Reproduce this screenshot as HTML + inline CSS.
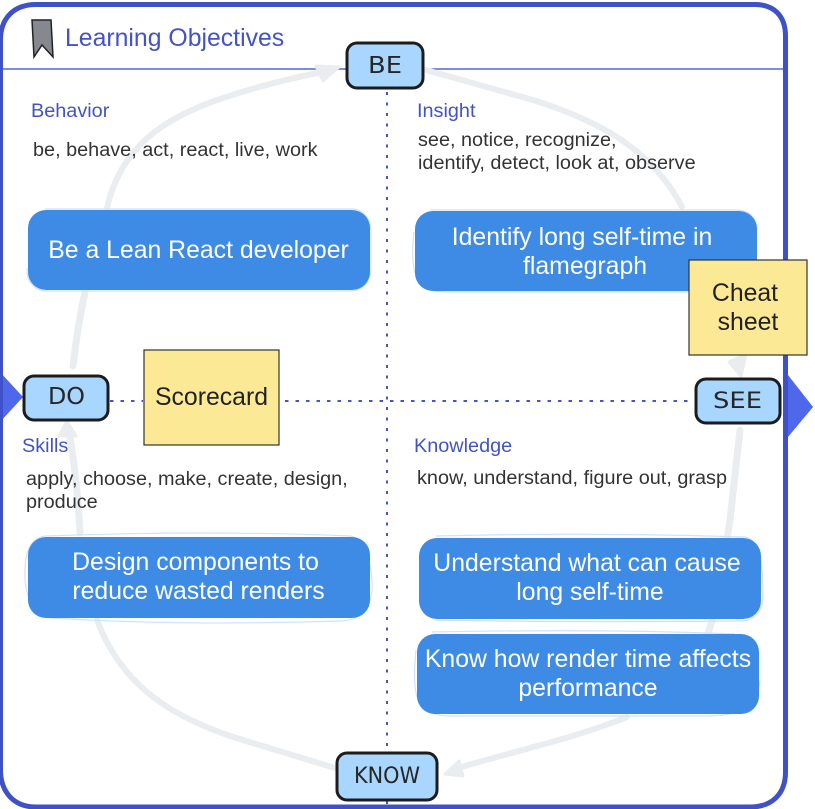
<!DOCTYPE html>
<html><head><meta charset="utf-8"><style>
html,body{margin:0;padding:0;background:#fff}
svg{display:block}
text{font-family:"Liberation Sans",sans-serif}
.h{fill:#4254c5;font-size:19.85px}
.b{fill:#333;font-size:19.85px}
.w{fill:#fff;font-size:24.8px;text-anchor:middle}
.y{fill:#222;font-size:24.8px;text-anchor:middle}
.k{fill:#262626;font-size:23px;font-family:"DejaVu Sans",sans-serif}
</style></head><body>
<svg width="815" height="809" viewBox="0 0 815 809" xmlns="http://www.w3.org/2000/svg">
<rect width="815" height="809" fill="#fff"/>
<line x1="3" y1="69" x2="783" y2="69" stroke="#5468d4" stroke-width="1.5"/>
<path d="M387 92V752M387 801V806" fill="none" stroke="#4254d0" stroke-width="2" stroke-dasharray="3 7.5"/>
<path d="M110 401H143M285 401H693" fill="none" stroke="#4254d0" stroke-width="2" stroke-dasharray="3.500 7"/>
<g fill="none" stroke="#e9edf0" stroke-width="6" stroke-linecap="round">
<path d="M426 70L533 100C590 118 650 145 682 207"/>
<path d="M627 717C570 740 510 752 455 769"/>
<path d="M335 768L233 737C185 720 125 695 97 620"/>
<path d="M107 208C120 150 160 120 217 100C255 87 290 78 328 71"/>
</g>
<g fill="none" stroke="#e9edf0" stroke-width="7" stroke-linecap="round">
<path d="M740 430L730 520L727 540M712 620L708 634"/>
<path d="M80 533C78 495 74 460 69 432"/>
<path d="M73 366C76 340 80 315 85 292"/>
</g>
<g fill="#e9edf0" stroke="#e9edf0" stroke-width="3" stroke-linejoin="round">
<path d="M339 67L316 66L323 81Z"/>
<path d="M445 774L459 761L463 776Z"/>
<path d="M67 421L59 436L76 436Z"/>
<path d="M741 376L729 362L746 354Z"/>
</g>
<path d="M788 375L813 407L788 437L785 437L785 375Z" fill="#4f67ea"/>
<path d="M0 372L23 397L0 422Z" fill="#4f67ea"/>
<path d="M36 4.5H755C774 4.5 785.5 16 785.5 36V772C785.5 794 772 807 750 807H36C12 807 0.5 790 0.5 770V40C0.5 18 14 4.5 36 4.5Z" fill="none" stroke="#3f51c6" stroke-width="5"/>
<path d="M32 20L51 20L53 57L42 45L34 57Z" fill="#85898f" stroke="#222" stroke-width="1.5"/>
<text x="65" y="46" fill="#4254c5" style="font-size:24.8px">Learning Objectives</text>
<g fill="none" stroke="#cfe2f8" stroke-width="1.2">
<path d="M45 209H352C364 209 371 220 371 232V268C371 282 362 291 350 291H46C34 291 26 280 27 268"/>
<path d="M430 210H735C750 210 757 218 757 230M414 232C412 250 412 270 418 280C424 292 440 292 450 292H690"/>
<path d="M45 536C150 532 260 532 350 536C366 538 373 570 372 590C370 610 360 620 340 621C240 624 150 624 50 618C30 614 24 590 25 570C25 550 32 538 45 536Z"/>
<path d="M436 536C550 533 650 534 745 537C760 540 763 560 763 600C760 616 750 621 740 621C640 622 530 622 435 620"/>
<path d="M432 632C540 630 640 630 735 634M416 650C414 670 414 690 418 700C424 714 440 716 450 716H700C740 716 758 710 760 680"/>
</g>
<rect x="28" y="210" width="342" height="80" rx="18" fill="#3d8be5"/>
<rect x="415" y="211" width="342" height="80" rx="18" fill="#3d8be5"/>
<rect x="28" y="537" width="342" height="81" rx="18" fill="#3d8be5"/>
<rect x="419" y="538" width="342" height="81" rx="18" fill="#3d8be5"/>
<rect x="417" y="634" width="342" height="80" rx="18" fill="#3d8be5"/>
<text class="w" x="198.500" y="258">Be a Lean React developer</text>
<text class="w" x="582" y="245">Identify long self-time in</text>
<text class="w" x="585" y="274">flamegraph</text>
<text class="w" x="195.500" y="570">Design components to</text>
<text class="w" x="198.500" y="599">reduce wasted renders</text>
<text class="w" x="587" y="571">Understand what can cause</text>
<text class="w" x="590" y="600">long self-time</text>
<text class="w" x="588" y="667">Know how render time affects</text>
<text class="w" x="588" y="696">performance</text>
<text class="h" x="31" y="117">Behavior</text>
<text class="b" x="33" y="156">be, behave, act, react, live, work</text>
<text class="h" x="417" y="117">Insight</text>
<text class="b" x="418" y="146">see, notice, recognize,</text>
<text class="b" x="418" y="169">identify, detect, look at, observe</text>
<text class="h" x="22" y="452">Skills</text>
<text class="b" x="26" y="485">apply, choose, make, create, design,</text>
<text class="b" x="26" y="508">produce</text>
<text class="h" x="414" y="452">Knowledge</text>
<text class="b" x="417" y="484">know, understand, figure out, grasp</text>
<rect x="144" y="350" width="135" height="95" fill="#fce996" stroke="#333" stroke-width="1.2"/>
<text class="y" x="211.500" y="405">Scorecard</text>
<rect x="689" y="260" width="118" height="95" fill="#fce996" stroke="#333" stroke-width="1.2"/>
<text class="y" x="745" y="301">Cheat</text>
<text class="y" x="748" y="330">sheet</text>
<g fill="#a9d6fe" stroke="#1c1c1c" stroke-width="3">
<rect x="347" y="43" width="76" height="45" rx="10"/>
<rect x="24" y="376" width="84" height="44" rx="10"/>
<rect x="696" y="379" width="84" height="44" rx="10"/>
<rect x="337" y="753" width="100" height="47" rx="10"/>
</g>
<text class="k" x="368" y="73" textLength="34" lengthAdjust="spacingAndGlyphs">BE</text>
<text class="k" x="48" y="404" textLength="37" lengthAdjust="spacingAndGlyphs">DO</text>
<text class="k" x="713" y="408" textLength="49" lengthAdjust="spacingAndGlyphs" style="font-size:22px">SEE</text>
<text class="k" x="354" y="783" textLength="66" lengthAdjust="spacingAndGlyphs" style="font-size:22px">KNOW</text>
</svg>
</body></html>
